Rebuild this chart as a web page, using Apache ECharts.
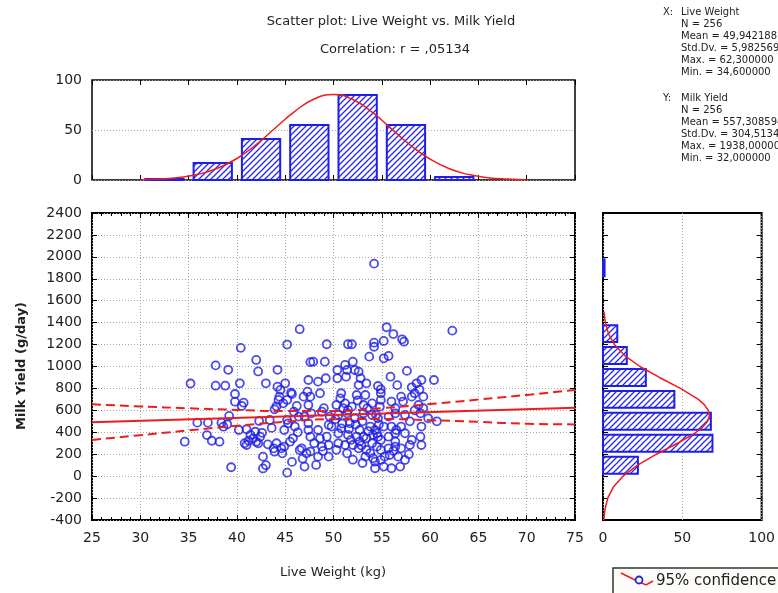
<!DOCTYPE html>
<html><head><meta charset="utf-8">
<script src="https://cdn.jsdelivr.net/npm/echarts@6/dist/echarts.min.js"></script>
<style>html,body{margin:0;padding:0;background:#fff}#c{width:778px;height:593px}</style>
</head><body><div id="c"></div>
<script>
// ---------------- data ----------------
const liveWeight = [
 34.6,
 35.2,35.9,37.0,36.9,37.4,38.2,37.8,37.8,38.8,39.1,38.4,38.6,39.0,39.2,39.4,39.8,39.8,
 40.4,40.3,40.7,40.5,40.2,41.0,40.8,41.0,41.2,41.9,42.0,42.2,42.0,42.2,42.3,43.0,42.7,42.7,43.0,43.4,43.9,
 44.2,44.2,44.5,44.1,44.3,44.4,44.8,44.1,43.8,43.9,44.6,44.7,41.4,41.7,42.4,42.6,44.9,44.9,43.6,43.2,
 46.5,45.2,47.6,45.0,45.6,47.4,47.3,45.7,45.2,45.2,45.5,45.8,45.9,46.5,46.7,47.2,47.0,45.3,46.0,46.4,
 47.0,47.4,46.9,45.2,49.3,47.9,49.1,48.4,49.2,48.6,47.6,47.4,47.7,48.8,49.6,49.5,49.8,47.4,48.4,47.6,
 48.6,49.3,47.6,48.8,49.5,48.4,49.5,48.2,46.2,46.8,48.0,49.0,46.3,48.9,45.7,
 51.9,51.5,53.7,52.0,51.2,50.4,51.4,52.2,52.6,50.4,51.3,52.8,52.6,53.4,54.6,54.9,54.2,54.2,54.2,
 50.8,50.7,52.4,53.3,54.9,54.9,
 50.3,51.2,51.9,53.1,54.0,54.8,51.5,
 50.5,51.4,52.2,53.1,54.0,54.6,
 50.8,51.7,52.7,53.8,54.3,
 50.5,51.5,52.4,52.7,53.4,54.1,54.5,53.1,54.9,
 50.5,52.0,52.6,53.4,54.5,54.9,51.2,
 51.4,53.3,54.1,54.9,54.3,
 54.3,
 50.2,50.9,51.6,52.3,53.0,53.6,54.0,54.7,50.3,51.8,52.9,53.8,54.4,51.0,52.5,53.5,54.6,52.0,53.0,
 55.5,56.2,57.1,57.3,55.2,55.2,55.7,55.9,58.1,58.6,59.1,
 57.0,58.1,59.3,58.4,
 56.0,57.2,58.8,59.3,56.4,
 55.7,56.4,57.4,59.0,59.8,
 55.2,56.0,57.0,56.5,59.1,
 55.7,56.4,57.4,58.1,59.0,56.4,
 55.7,56.4,57.0,57.9,59.1,
 55.8,56.7,57.4,55.3,
 55.2,56.0,56.9,
 58.9,56.6,57.6,57.9,58.4,56.2,57.8,
 60.4,60.7,62.3
];
const milkYield = [
 314,
 845,488,488,375,323,314,1010,825,825,970,488,451,473,549,81,749,679,
 1170,847,670,640,421,427,300,284,323,405,314,300,1060,955,503,847,178,70,100,512,610,
 970,816,786,637,695,725,664,300,254,223,254,208,376,345,360,395,270,421,440,290,
 1340,1200,1040,847,762,877,770,749,32,512,314,345,588,238,254,208,87,482,452,543,
 543,482,725,695,1203,1044,1044,862,893,756,725,649,573,588,543,467,452,421,421,360,
 345,360,224,269,284,178,178,102,640,160,300,620,400,230,130,
 1203,1203,1090,1044,1014,968,968,968,953,893,907,893,831,847,822,792,1217,1180,1938,
 756,710,740,740,756,695,
 649,664,634,649,664,634,604,
 558,573,528,573,558,528,
 436,482,421,452,421,
 391,376,360,315,345,376,391,360,330,
 300,284,254,239,269,239,284,
 208,178,163,148,132,
 72,
 520,480,430,470,500,410,300,470,240,330,280,210,560,620,690,620,360,150,120,
 1358,1296,1248,1226,1233,1075,1096,907,810,847,877,
 725,725,725,756,
 680,680,649,619,619,
 543,573,558,573,528,
 452,452,452,421,452,
 360,391,391,330,360,315,
 254,269,254,284,284,
 193,178,148,178,
 87,72,87,
 790,830,960,500,600,230,200,
 877,500,1327
];

// Live weight histogram (top)
const weightBinEdges = [30, 35, 40, 45, 50, 55, 60, 65];
const weightBinCounts = [1, 17, 41, 55, 85, 55, 3];
const weightCurveX = [30,32,34,36,38,40,42,44,46,48,50,52,54,56,58,60,62,64,66,68,70];
const weightCurveY = [0.3,1,2.5,5.7,11.7,21.5,35.4,52.2,68.7,81,85.4,80.5,67.8,51.1,34.5,20.8,11.2,5.4,2.3,0.9,0.3];

// Milk yield histogram (right)
const yieldBinEdges = [0, 200, 400, 600, 800, 1000, 1200, 1400, 1600, 1800, 2000];
const yieldBinCounts = [22, 69, 68, 45, 27, 15, 9, 0, 0, 1];
const yieldCurveY = [-400,-300,-200,-100,0,100,200,300,400,450,500,550,600,650,700,800,900,1000,1100,1200,1300,1400,1500];
const yieldCurveN = [0.5,1.3,3.0,6.5,12.6,21.8,33.7,47.0,58.7,63.0,65.9,67.1,66.4,64.0,60.1,48.8,35.6,23.3,13.7,7.2,3.4,1.5,0.6];

// Regression line and 95% confidence band
const fitX = [25, 75];
const fitY = [492, 623];
const bandX = [25, 30, 35, 40, 45, 50, 55, 60, 65, 70, 75];
const bandUpper = [655, 636, 619, 604, 593, 595, 620, 657, 698, 741, 786];
const bandLower = [330, 374, 417, 459, 496, 520, 521, 510, 495, 478, 472];

// Tick ranges / texts
const xTicks = {min: 25, max: 75, step: 5};
const yTicks = {min: -400, max: 2400, step: 200};
const histTicks = {min: 0, max: 100, step: 50};
const statsX = ['N = 256', 'Mean = 49,942188', 'Std.Dv. = 5,982569', 'Max. = 62,300000', 'Min. = 34,600000'];
const statsY = ['N = 256', 'Mean = 557,308594', 'Std.Dv. = 304,513477', 'Max. = 1938,000000', 'Min. = 32,000000'];

// ---------------- styling ----------------
const FONT = '"DejaVu Sans", "Liberation Sans", Arial, sans-serif';
const TXT = '#222';
const BLUE = '#1e1ee6';
const RED = '#ee1c1c';

const hatch = (function () {
  const s = 6;
  const c = document.createElement('canvas');
  c.width = s; c.height = s;
  const g = c.getContext('2d');
  g.fillStyle = '#fff'; g.fillRect(0, 0, s, s);
  g.strokeStyle = '#2828e6'; g.lineWidth = 1.3;
  g.beginPath();
  g.moveTo(-1, s + 1); g.lineTo(s + 1, -1);
  g.moveTo(-1, 1); g.lineTo(1, -1);
  g.moveTo(s - 1, s + 1); g.lineTo(s + 1, s - 1);
  g.stroke();
  return c;
})();
const hatchFill = {image: hatch, repeat: 'repeat'};

const dotted = {show: true, lineStyle: {color: '#a8a8a8', type: [1, 2], width: 1}};
const tickIn = {show: true, inside: true, length: 5, lineStyle: {color: '#000', width: 1}};
const minorIn = {show: true, splitNumber: 5, length: 3, lineStyle: {color: '#000', width: 1}};
const noLine = {show: false, onZero: false};
const plain = v => String(v);
const lbl = {color: TXT, fontSize: 14, fontFamily: FONT, formatter: plain};

function topHist(params, api) {
  const n = api.value(2);
  if (!n) return null;
  const a = api.coord([api.value(0), 0]);
  const b = api.coord([api.value(1), n]);
  const pad = 5;
  return {type: 'rect', shape: {x: a[0] + pad, y: b[1], width: b[0] - a[0] - 2 * pad, height: a[1] - b[1]},
    style: {fill: hatchFill, stroke: BLUE, lineWidth: 2}};
}
function rightHist(params, api) {
  const n = api.value(2);
  if (!n) return null;
  const a = api.coord([0, api.value(0)]);
  const b = api.coord([n, api.value(1)]);
  const pad = 2.5;
  return {type: 'rect', shape: {x: a[0], y: b[1] + pad, width: b[0] - a[0], height: a[1] - b[1] - 2 * pad},
    style: {fill: hatchFill, stroke: BLUE, lineWidth: 2}};
}

function txt(x, y, s, opt) {
  opt = opt || {};
  return {type: 'text', x: x, y: y, rotation: opt.rot || 0, z: 100,
    style: {text: s, font: (opt.weight || 'normal') + ' ' + (opt.size || 13) + 'px ' + FONT,
      fill: opt.color || TXT, align: opt.align || 'left', verticalAlign: 'middle',
      textAlign: opt.align || 'left', textVerticalAlign: 'middle'}};
}

const graphics = [
  txt(391, 22, 'Scatter plot: Live Weight vs. Milk Yield', {align: 'center', size: 13}),
  txt(395, 50, 'Correlation: r = ,05134', {align: 'center', size: 13}),
  txt(333, 573, 'Live Weight (kg)', {align: 'center', size: 13}),
  txt(22, 366, 'Milk Yield (g/day)', {align: 'center', size: 13, weight: 'bold', rot: Math.PI / 2}),
  txt(663, 12, 'X:', {size: 10}),
  txt(681, 12, 'Live Weight', {size: 10}),
  txt(663, 98, 'Y:', {size: 10}),
  txt(681, 98, 'Milk Yield', {size: 10})
];
statsX.forEach((s, i) => graphics.push(txt(681, 24 + i * 12, s, {size: 10})));
statsY.forEach((s, i) => graphics.push(txt(681, 110 + i * 12, s, {size: 10})));
// legend box
graphics.push({type: 'rect', shape: {x: 613, y: 568, width: 190, height: 40}, style: {fill: '#fdfcf9', stroke: '#333', lineWidth: 1.5}, z: 90});
graphics.push({type: 'polyline', shape: {points: [[621, 573], [633, 579], [646, 585], [653, 581]]}, style: {stroke: RED, lineWidth: 1.5, fill: null}, z: 100});
graphics.push({type: 'circle', shape: {cx: 639, cy: 580, r: 3.5}, style: {stroke: BLUE, lineWidth: 1.8, fill: '#fff'}, z: 101});
graphics.push(txt(656, 581, '95% confidence', {size: 15}));

const option = {
  animation: false,
  backgroundColor: '#fff',
  grid: [
    {left: 92, top: 80, width: 483, height: 100, show: true, borderColor: '#000', borderWidth: 1.5, backgroundColor: 'transparent'},
    {left: 92, top: 213, width: 483, height: 307, show: true, borderColor: '#000', borderWidth: 2, backgroundColor: 'transparent'},
    {left: 603, top: 213, width: 160, height: 307, show: true, borderColor: '#000', borderWidth: 2, backgroundColor: 'transparent'}
  ],
  xAxis: [
    {gridIndex: 0, type: 'value', min: xTicks.min, max: xTicks.max, interval: xTicks.step, axisLine: noLine, axisLabel: {show: false}, axisTick: tickIn, splitLine: {show: false}},
    {gridIndex: 0, type: 'value', position: 'top', min: xTicks.min, max: xTicks.max, interval: xTicks.step, axisLine: noLine, axisLabel: {show: false}, axisTick: tickIn, splitLine: {show: false}},
    {gridIndex: 1, type: 'value', min: xTicks.min, max: xTicks.max, interval: xTicks.step, axisLine: noLine, axisLabel: Object.assign({margin: 11}, lbl), axisTick: tickIn, minorTick: minorIn, splitLine: dotted},
    {gridIndex: 1, type: 'value', position: 'top', min: xTicks.min, max: xTicks.max, interval: xTicks.step, axisLine: noLine, axisLabel: {show: false}, axisTick: tickIn, minorTick: minorIn, splitLine: {show: false}},
    {gridIndex: 2, type: 'value', min: histTicks.min, max: histTicks.max, interval: histTicks.step, axisLine: noLine, axisLabel: Object.assign({margin: 11}, lbl), axisTick: {show: false}, splitLine: dotted}
  ],
  yAxis: [
    {gridIndex: 0, type: 'value', min: histTicks.min, max: histTicks.max, interval: histTicks.step, axisLine: noLine, axisLabel: Object.assign({margin: 10}, lbl), axisTick: {show: false}, splitLine: dotted},
    {gridIndex: 1, type: 'value', min: yTicks.min, max: yTicks.max, interval: yTicks.step, axisLine: noLine, axisLabel: Object.assign({margin: 10}, lbl), axisTick: tickIn, splitLine: dotted},
    {gridIndex: 1, type: 'value', position: 'right', min: yTicks.min, max: yTicks.max, interval: yTicks.step, axisLine: noLine, axisLabel: {show: false}, axisTick: tickIn, splitLine: {show: false}},
    {gridIndex: 2, type: 'value', min: yTicks.min, max: yTicks.max, interval: yTicks.step, axisLine: noLine, axisLabel: {show: false}, axisTick: tickIn, splitLine: {show: false}},
    {gridIndex: 2, type: 'value', position: 'right', min: yTicks.min, max: yTicks.max, interval: yTicks.step, axisLine: noLine, axisLabel: {show: false}, axisTick: tickIn, splitLine: {show: false}}
  ],
  series: [
    {type: 'custom', xAxisIndex: 0, yAxisIndex: 0, renderItem: topHist, encode: {x: [0, 1], y: 2},
      data: weightBinCounts.map((n, i) => [weightBinEdges[i], weightBinEdges[i + 1], n]), z: 2},
    {type: 'line', xAxisIndex: 0, yAxisIndex: 0, showSymbol: false, smooth: true, z: 3,
      lineStyle: {color: RED, width: 1.5}, data: weightCurveX.map((x, i) => [x, weightCurveY[i]])},
    {type: 'scatter', xAxisIndex: 2, yAxisIndex: 1, symbol: 'circle', symbolSize: 8, z: 2,
      itemStyle: {color: 'rgba(0,0,0,0)', borderColor: BLUE, borderWidth: 1.8},
      data: liveWeight.map((x, i) => [x, milkYield[i]])},
    {type: 'line', xAxisIndex: 2, yAxisIndex: 1, showSymbol: false, z: 4,
      lineStyle: {color: RED, width: 2}, data: fitX.map((x, i) => [x, fitY[i]])},
    {type: 'line', xAxisIndex: 2, yAxisIndex: 1, showSymbol: false, smooth: true, z: 4,
      lineStyle: {color: RED, width: 2, type: [9, 5]}, data: bandX.map((x, i) => [x, bandUpper[i]])},
    {type: 'line', xAxisIndex: 2, yAxisIndex: 1, showSymbol: false, smooth: true, z: 4,
      lineStyle: {color: RED, width: 2, type: [9, 5]}, data: bandX.map((x, i) => [x, bandLower[i]])},
    {type: 'custom', xAxisIndex: 4, yAxisIndex: 3, renderItem: rightHist, encode: {x: 2, y: [0, 1]},
      data: yieldBinCounts.map((n, i) => [yieldBinEdges[i], yieldBinEdges[i + 1], n]), z: 2},
    {type: 'line', xAxisIndex: 4, yAxisIndex: 3, showSymbol: false, smooth: false, z: 3,
      lineStyle: {color: RED, width: 1.5}, data: yieldCurveY.map((y, i) => [yieldCurveN[i], y])}
  ],
  graphic: graphics
};

const chart = echarts.init(document.getElementById('c'), null, {renderer: 'canvas'});
chart.setOption(option);
</script>
</body></html>
